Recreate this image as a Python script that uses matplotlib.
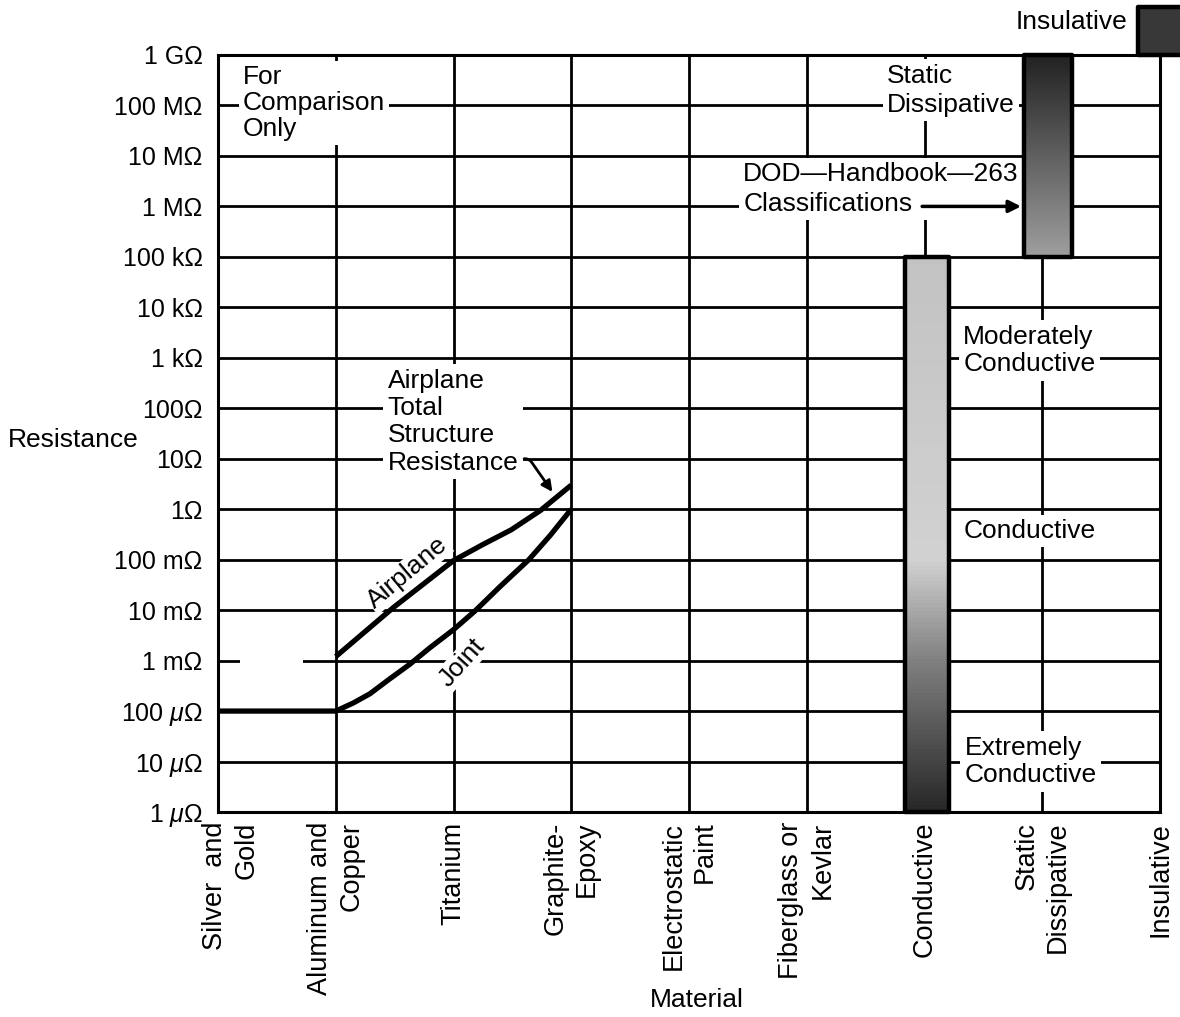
import numpy as np
import matplotlib
matplotlib.use('Agg')
import matplotlib.pyplot as plt
from matplotlib.patches import Rectangle
from matplotlib.ticker import NullLocator
from matplotlib.transforms import ScaledTranslation

plt.rcParams['font.family'] = ['Liberation Sans', 'DejaVu Sans']
plt.rcParams['mathtext.fontset'] = 'custom'
plt.rcParams['mathtext.it'] = 'Liberation Sans:italic'
plt.rcParams['mathtext.rm'] = 'Liberation Sans'

# ---------------- data ----------------
materials = ["Silver  and\nGold", "Aluminum and\nCopper", "Titanium",
             "Graphite-\nEpoxy", "Electrostatic\nPaint", "Fiberglass or\nKevlar",
             "Conductive", "Static\nDissipative", "Insulative"]

ytick_values = [1e-6, 1e-5, 1e-4, 1e-3, 1e-2, 1e-1, 1e0, 1e1, 1e2,
                1e3, 1e4, 1e5, 1e6, 1e7, 1e8, 1e9]
ytick_labels = ["1 $\\mu$Ω", "10 $\\mu$Ω", "100 $\\mu$Ω", "1 mΩ", "10 mΩ",
                "100 mΩ", "1Ω", "10Ω", "100Ω", "1 kΩ", "10 kΩ", "100 kΩ",
                "1 MΩ", "10 MΩ", "100 MΩ", "1 GΩ"]

airplane_x = [1, 1.49, 2, 2.25, 2.49, 2.74, 3]
airplane_y = [1.2e-3, 1.13e-2, 0.096, 0.2, 0.39, 0.95, 3.0]

joint_x = [0, 1, 1.15, 1.29, 1.45, 1.63, 1.8, 2, 2.18, 2.4, 2.64, 2.82, 3]
joint_y = [1e-4, 1e-4, 1.45e-4, 2.2e-4, 4.2e-4, 8.5e-4, 1.8e-3, 4.1e-3,
           9.5e-3, 3.0e-2, 0.1, 0.3, 1.0]

class_pos = [6.02, 7.05, 8.0]
class_low = [1e-6, 1e5, 1e9]
class_high = [1e5, 1e9, 9e9]

# ---------------- figure ----------------
fig = plt.figure(figsize=(11.8, 10.17), dpi=100)
ax = fig.add_axes([218/1180, 1-812/1017, (1160-218)/1180, (812-55)/1017])
ax.set_yscale('log')
ax.set_ylim(1e-6, 1e9)
ax.set_xlim(0, 8)

ax.set_yticks(ytick_values)
ax.set_yticklabels(ytick_labels, fontsize=18)
ax.yaxis.set_minor_locator(NullLocator())
ax.set_xticks(range(len(materials)))
ax.set_xticklabels(materials, rotation=90, fontsize=19.5, va='top', ha='center',
                   multialignment='right', linespacing=1.25)
ax.tick_params(length=0)
ax.tick_params(axis='y', pad=11)
ax.tick_params(axis='x', pad=7)
lab0 = ax.get_xticklabels()[0]
lab0.set_transform(lab0.get_transform() + ScaledTranslation(0.13, 0, fig.dpi_scale_trans))

for s in ax.spines.values():
    s.set_linewidth(2.2)
    s.set_color('black')

ax.grid(True, which='major', color='black', lw=2.0)
ax.set_axisbelow(True)

# small printing gap on the 1 mOhm line
ax.plot([0.19, 0.72], [1e-3, 1e-3], color='white', lw=4, zorder=1, solid_capstyle='butt')

# ---------------- curves ----------------
ax.plot(airplane_x, airplane_y, color='black', lw=3.8, zorder=4,
        solid_capstyle='butt', solid_joinstyle='round')
ax.plot(joint_x, joint_y, color='black', lw=3.8, zorder=4,
        solid_capstyle='butt', solid_joinstyle='round')

# ---------------- classification bars with gradients ----------------
grad_stops = [
    ([-6, -3, -1, 5], [0.15, 0.5, 0.82, 0.76]),
    ([5, 9], [0.62, 0.13]),
    ([9, 10], [0.22, 0.22]),
]
bws = [0.37, 0.41, 0.38]
for pos, lo, hi, (sv, sg), bw in zip(class_pos, class_low, class_high, grad_stops, bws):
    edges = np.logspace(np.log10(lo), np.log10(hi), 150)
    centers = np.log10(np.sqrt(edges[:-1] * edges[1:]))
    g = np.interp(centers, sv, sg)
    qm = ax.pcolormesh([pos - bw/2, pos + bw/2], edges, g[:, None], cmap='gray',
                       vmin=0, vmax=1, zorder=3, shading='flat')
    qm.set_clip_on(False)
    r = Rectangle((pos - bw/2, lo), bw, hi - lo, fill=False, ec='black', lw=3.2,
                  joinstyle='round', zorder=3.5, clip_on=False)
    ax.add_patch(r)

# ---------------- annotations ----------------
wb = dict(facecolor='white', edgecolor='none', pad=3)
fs = 19
ax.text(0.21, 1.1e8, "For\nComparison\nOnly", fontsize=fs, ha='left', va='center',
        linespacing=1.1, bbox=wb, zorder=2)
ax.text(1.44, 54, "Airplane\nTotal\nStructure\nResistance", fontsize=fs, ha='left',
        va='center', linespacing=1.18, bbox=wb, zorder=2)
ax.annotate("", xy=(2.84, 2.2), xytext=(2.6, 10),
            arrowprops=dict(arrowstyle='-|>', lw=2, color='black', mutation_scale=16,
                            connectionstyle='angle,angleA=0,angleB=-55,rad=4',
                            shrinkA=0, shrinkB=0), zorder=5)
ax.text(1.61, 0.055, "Airplane", fontsize=fs, ha='center', va='center', rotation=40,
        rotation_mode='anchor', bbox=dict(facecolor='white', edgecolor='none', pad=1), zorder=2)
ax.text(2.07, 9.0e-4, "Joint", fontsize=fs, ha='center', va='center', rotation=48,
        rotation_mode='anchor', bbox=dict(facecolor='white', edgecolor='none', pad=1), zorder=2)

ax.text(5.68, 2e8, "Static\nDissipative", fontsize=fs, ha='left', va='center',
        linespacing=1.28, bbox=wb, zorder=2)
ax.text(4.46, 2.2e6, "DOD\u2014Handbook\u2014263\nClassifications", fontsize=fs,
        ha='left', va='center', linespacing=1.3, bbox=wb, zorder=2)
ax.annotate("", xy=(6.82, 1e6), xytext=(5.98, 1e6),
            arrowprops=dict(arrowstyle='-|>', lw=2.5, color='black', mutation_scale=18,
                            shrinkA=0, shrinkB=0), zorder=5)
ax.text(6.33, 1.4e3, "Moderately\nConductive", fontsize=fs, ha='left', va='center',
        linespacing=1.2, bbox=wb, zorder=2)
ax.text(6.33, 0.37, "Conductive", fontsize=fs, ha='left', va='center', bbox=wb, zorder=2)
ax.text(6.34, 1e-5, "Extremely\nConductive", fontsize=fs, ha='left', va='center',
        linespacing=1.2, bbox=wb, zorder=2)

fig.text(1127/1180, 1-22/1017, "Insulative", fontsize=fs, ha='right', va='center')
fig.text(8/1180, 1-440/1017, "Resistance", fontsize=fs, ha='left', va='center')
fig.text(697/1180, 1-1000/1017, "Material", fontsize=fs, ha='center', va='center')

fig.savefig('out.png', dpi=100, facecolor='white')
